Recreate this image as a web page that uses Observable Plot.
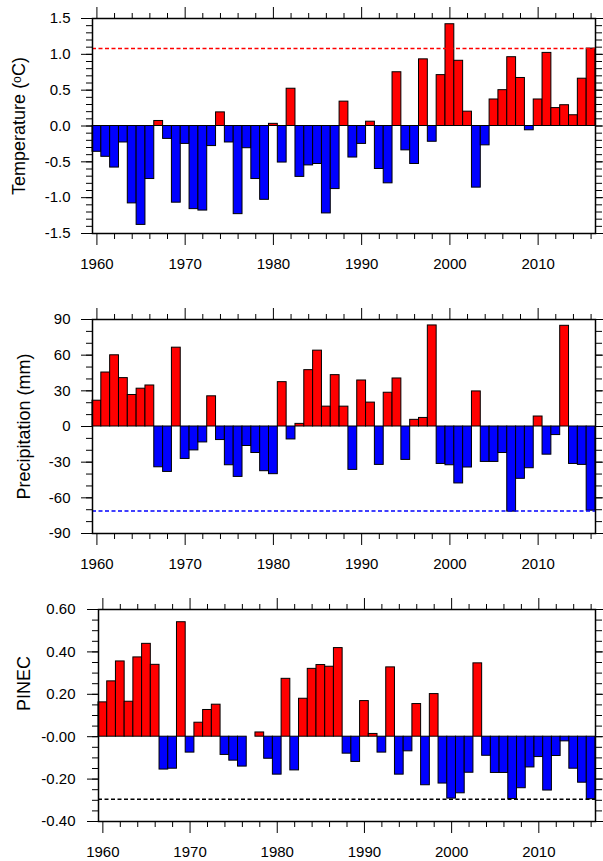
<!DOCTYPE html>
<html>
<head>
<meta charset="utf-8">
<script src="https://cdn.jsdelivr.net/npm/d3@7"></script>
<script src="https://cdn.jsdelivr.net/npm/@observablehq/plot@0.6"></script>
<style>
  html, body { margin: 0; padding: 0; background: #fff; }
  #wrap { position: relative; width: 603px; height: 861px; }
  #wrap svg { position: absolute; left: 0; }
</style>
</head>
<body>
<div id="wrap"></div>
<script>
const years = [1960,1961,1962,1963,1964,1965,1966,1967,1968,1969,
  1970,1971,1972,1973,1974,1975,1976,1977,1978,1979,
  1980,1981,1982,1983,1984,1985,1986,1987,1988,1989,
  1990,1991,1992,1993,1994,1995,1996,1997,1998,1999,
  2000,2001,2002,2003,2004,2005,2006,2007,2008,2009,
  2010,2011,2012,2013,2014,2015,2016];

const temperature = [-0.36,-0.43,-0.58,-0.23,-1.08,-1.38,-0.74,0.07,-0.18,-1.07,
  -0.25,-1.16,-1.18,-0.28,0.19,-0.23,-1.23,-0.31,-0.74,-1.03,
  0.03,-0.51,0.52,-0.71,-0.55,-0.53,-1.22,-0.88,0.34,-0.44,
  -0.25,0.06,-0.60,-0.80,0.75,-0.34,-0.53,0.93,-0.22,0.71,
  1.42,0.91,0.20,-0.86,-0.27,0.37,0.50,0.96,0.67,-0.06,
  0.37,1.02,0.25,0.29,0.15,0.66,1.08];

const precipitation = [21.7,45.4,59.9,40.7,26.5,31.8,34.5,-34.3,-38.2,66.3,
  -27.3,-20.1,-13.4,25.4,-11.4,-32.6,-42.4,-16.4,-22.3,-37.6,
  -40.1,37.3,-10.9,2.2,47.4,63.8,16.7,43.2,16.7,-36.5,
  38.7,20.1,-32.3,28.4,40.4,-28.1,5.6,7.2,85.0,-31.5,
  -32.6,-47.9,-34.5,29.5,-29.8,-29.8,-22.3,-71.6,-44.0,-35.1,
  8.4,-23.7,-7.2,84.7,-31.5,-32.3,-70.8];

const pinec = [0.162,0.261,0.355,0.165,0.374,0.438,0.339,-0.155,-0.151,0.540,
  -0.075,0.066,0.126,0.151,-0.086,-0.113,-0.141,0.0,0.020,-0.104,
  -0.179,0.273,-0.159,0.179,0.320,0.338,0.330,0.418,-0.080,-0.119,
  0.168,0.013,-0.075,0.327,-0.179,-0.069,0.154,-0.229,0.201,-0.221,
  -0.292,-0.267,-0.170,0.346,-0.090,-0.171,-0.171,-0.294,-0.243,-0.145,
  -0.096,-0.254,-0.091,-0.022,-0.151,-0.217,-0.295];

// Reference (dashed) levels
const tempThreshold = 1.08;
const precThreshold = -71;
const pinecThreshold = -0.295;

// Tick labels
const xTicks = [1960,1970,1980,1990,2000,2010];
const xTickLabels = ["1960","1970","1980","1990","2000","2010"];
const xMinorTicks = [1962,1964,1966,1968,1972,1974,1976,1978,1982,1984,1986,1988,1992,1994,1996,1998,2002,2004,2006,2008,2012,2014,2016];

const tempTicks = [-1.5,-1.0,-0.5,0.0,0.5,1.0,1.5];
const tempTickLabels = ["-1.5","-1.0","-0.5","0.0","0.5","1.0","1.5"];
const precTicks = [-90,-60,-30,0,30,60,90];
const precTickLabels = ["-90","-60","-30","0","30","60","90"];
const pinecTicks = [-0.4,-0.2,0.0,0.2,0.4,0.6];
const pinecTickLabels = ["-0.40","-0.20","-0.00","0.20","0.40","0.60"];

const titles = ["Temperature (\u1D52C)", "Precipitation (mm)", "PINEC"];

const RED = "#ff0000", BLUE = "#0000ff";

function minorRange(lo, hi, step) {
  const out = [];
  const n = Math.round((hi - lo) / step);
  for (let i = 0; i <= n; i++) out.push(+(lo + i * step).toFixed(6));
  return out;
}

function panel(cfg) {
  const data = years.map((y, i) => ({year: y, value: cfg.values[i]}));
  const fmt = d => {
    const k = cfg.ticks.findIndex(t => Math.abs(t - d) < 1e-9);
    return k >= 0 ? cfg.labels[k] : "";
  };
  const blank = () => "";
  const minor = minorRange(cfg.domain[0], cfg.domain[1], cfg.minorStep);
  const chart = Plot.plot({
    width: 603,
    height: cfg.height,
    marginTop: cfg.mt,
    marginBottom: cfg.mb,
    marginLeft: cfg.ml,
    marginRight: 8,
    style: {fontFamily: "'Liberation Sans', Arial, Helvetica, sans-serif", fontSize: "15px", color: "#000", background: "transparent", overflow: "visible"},
    x: {domain: [1959.5, 2016.5]},
    y: {domain: cfg.domain},
    marks: [
      Plot.rect(data, {
        x1: d => d.year - 0.5,
        x2: d => d.year + 0.5,
        y1: () => 0,
        y2: "value",
        fill: d => d.value >= 0 ? RED : BLUE,
        stroke: "#000",
        strokeWidth: 1
      }),
      Plot.ruleY([cfg.threshold], {stroke: cfg.thColor, strokeWidth: 1.5, strokeDasharray: "4,2.5"}),
      Plot.frame({stroke: "#000", strokeWidth: 1.5}),
      // left axis
      Plot.axisY({anchor: "left", ticks: cfg.ticks, tickFormat: fmt, tickSize: 11, tickPadding: cfg.tp, fontSize: 15, label: null}),
      Plot.axisY({anchor: "left", ticks: minor, tickFormat: blank, tickSize: 6, label: null}),
      // right axis
      Plot.axisY({anchor: "right", ticks: cfg.ticks, tickFormat: blank, tickSize: 8, label: null}),
      Plot.axisY({anchor: "right", ticks: minor, tickFormat: blank, tickSize: 6, label: null}),
      // bottom axis
      Plot.axisX({anchor: "bottom", ticks: xTicks, tickFormat: d => xTickLabels[xTicks.indexOf(d)], tickSize: 12, tickPadding: 13, fontSize: 15, label: null}),
      Plot.axisX({anchor: "bottom", ticks: xMinorTicks, tickFormat: blank, tickSize: 6, label: null}),
      // top axis
      Plot.axisX({anchor: "top", ticks: xTicks, tickFormat: blank, tickSize: 12, label: null}),
      Plot.axisX({anchor: "top", ticks: xMinorTicks, tickFormat: blank, tickSize: 6, label: null}),
      // y title
      Plot.text([cfg.title], {frameAnchor: "left", textAnchor: "middle", lineAnchor: "middle", rotate: -90, dx: cfg.tdx, dy: cfg.tdy, fontSize: 18, fill: "#000"})
    ]
  });
  chart.style.top = cfg.top + "px";
  document.getElementById("wrap").appendChild(chart);
}

panel({values: temperature, domain: [-1.5, 1.5], ticks: tempTicks, labels: tempTickLabels, minorStep: 0.1,
  threshold: tempThreshold, thColor: RED, title: titles[0],
  top: 0, height: 287, mt: 18, mb: 54, ml: 92, tp: 11, tdx: -73, tdy: 0});

panel({values: precipitation, domain: [-90, 90], ticks: precTicks, labels: precTickLabels, minorStep: 10,
  threshold: precThreshold, thColor: BLUE, title: titles[1],
  top: 287, height: 287, mt: 32, mb: 41, ml: 92, tp: 11, tdx: -68, tdy: 0});

panel({values: pinec, domain: [-0.4, 0.6], ticks: pinecTicks, labels: pinecTickLabels, minorStep: 0.05,
  threshold: pinecThreshold, thColor: "#000", title: titles[2],
  top: 574, height: 287, mt: 35, mb: 40, ml: 98, tp: 12, tdx: -74, tdy: -32});
</script>
</body>
</html>
